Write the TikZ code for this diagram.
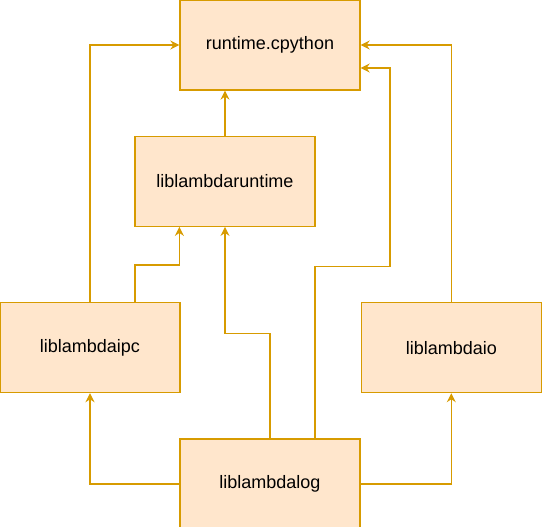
\documentclass[tikz,border=0pt]{standalone}
\usepackage{fontspec}
\setmainfont{Liberation Sans}
\usetikzlibrary{arrows.meta,positioning,calc}
\definecolor{dioorange}{HTML}{D79B00}
\definecolor{diofill}{HTML}{FFE6CC}

\begin{document}
\begin{tikzpicture}[
x=1pt,y=1pt,
lib/.style={draw=dioorange,fill=diofill,line width=1.3pt,align=center,
font=\fontsize{18}{22}\selectfont,minimum width=180pt,
minimum height=90pt,inner sep=0pt},
dep/.style={draw=dioorange,line width=1.3pt,
-{Stealth[length=9pt,width=9pt,inset=3pt]}}
]
\useasboundingbox (0,0) rectangle (542,527);
\node[lib] (cpy) at (270,482) {runtime.cpython};
\node[lib,below=45pt of cpy,xshift=-45pt] (rt) {liblambdaruntime};
\node[lib,below=75pt of rt,xshift=-135pt] (ipc) {liblambdaipc};
\node[lib,right=180pt of ipc] (io) {liblambdaio};
\node[lib,below=45pt of ipc,xshift=180pt] (log) {liblambdalog};
% bends
\coordinate (ipcb) at ($(ipc.north)+(45,0)$);
\coordinate (logb) at ($(log.north)+(45,0)$);
\coordinate (cpylo) at ($(cpy.east)+(0,-23)$);
\draw[dep] (ipc.north) |- (cpy.west);
\draw[dep] (ipcb) -- ++(0,37) -| ($(rt.south west)+(45,0)$);
\draw[dep] (rt.north) -- (rt.north |- cpy.south);
\draw[dep] (io.north) |- (cpy.east);
\draw[dep] (log.north) -- ++(0,105) -| (rt.south);
\draw[dep] (logb) -- ++(0,172) -- ++(75,0) |- (cpylo);
\draw[dep] (log.west) -| (ipc.south);
\draw[dep] (log.east) -| (io.south);
\end{tikzpicture}
\end{document}
